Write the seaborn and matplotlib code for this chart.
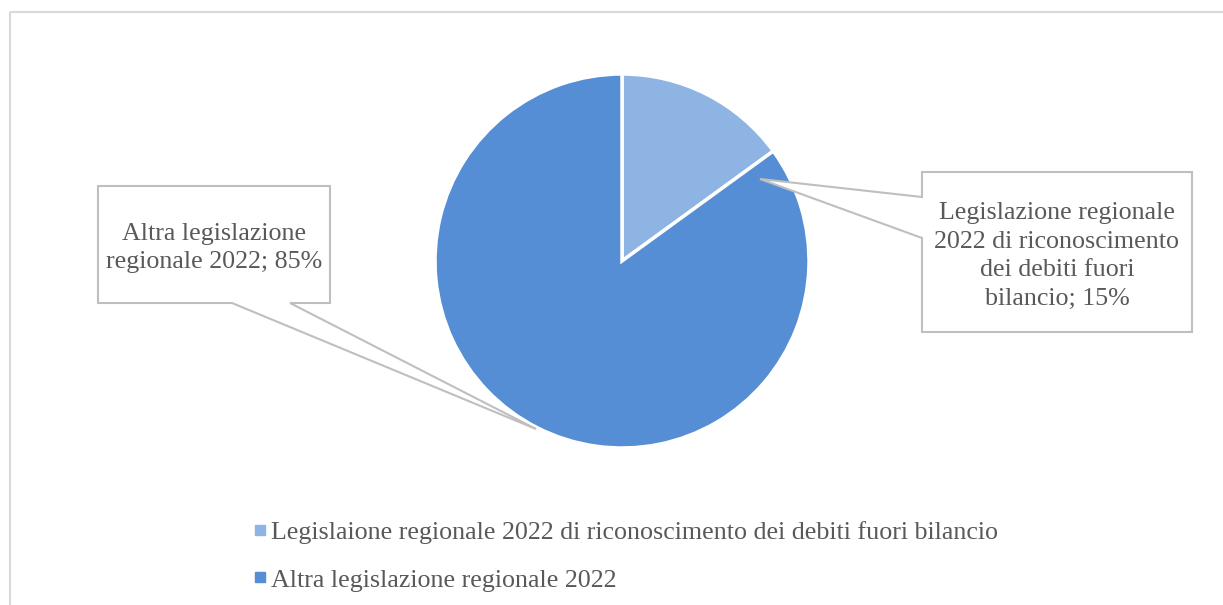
import matplotlib
matplotlib.use("Agg")
import matplotlib.pyplot as plt
from matplotlib.patches import Polygon, Rectangle
from matplotlib.lines import Line2D
import seaborn as sns

# ---- data ----
categories = ["Legislazione regionale 2022 di riconoscimento dei debiti fuori bilancio",
              "Altra legislazione regionale 2022"]
values = [15, 85]
legend_labels = ["Legislaione regionale 2022 di riconoscimento dei debiti fuori bilancio",
                 "Altra legislazione regionale 2022"]
data_labels = ["Legislazione regionale\n2022 di riconoscimento\ndei debiti fuori\nbilancio; 15%",
               "Altra legislazione\nregionale 2022; 85%"]
colors_hex = ["#8EB4E3", "#558ED5"]

sns.set_theme(style="white")
plt.rcParams['font.family'] = ['Liberation Serif', 'DejaVu Serif']
palette = sns.color_palette(colors_hex)

W, H = 1223, 605
fig = plt.figure(figsize=(W / 100, H / 100), dpi=100)
fig.patch.set_facecolor("white")

# pie axes (center ~ (622,261) px, radius ~187 px)
cx, cy, r = 622, 261, 187
ax = fig.add_axes([(cx - r) / W, (H - (cy + r)) / H, 2 * r / W, 2 * r / H])
ax.pie(values, colors=palette, startangle=90, counterclock=False, radius=1,
       wedgeprops=dict(edgecolor="white", linewidth=2.5))
ax.set_xlim(-1, 1)
ax.set_ylim(-1, 1)
ax.set_aspect("equal")
ax.axis("off")

# overlay in pixel coordinates for frame and callouts
ov = fig.add_axes([0, 0, 1, 1], zorder=5)
ov.set_xlim(0, W)
ov.set_ylim(H, 0)
ov.axis("off")
ov.patch.set_alpha(0)

ov.add_patch(Rectangle((10, 12), W, H, fill=False, edgecolor="#D9D9D9", linewidth=1.5))

grey = "#BFBFBF"
txtc = "#595959"
right_box = [(922, 172), (1192, 172), (1192, 332), (922, 332), (922, 238), (760, 179), (922, 197)]
left_box = [(98, 186), (330, 186), (330, 303), (290, 303), (536, 429), (232, 303), (98, 303)]
for pts in (right_box, left_box):
    ov.add_patch(Polygon(pts, closed=True, facecolor="white", edgecolor=grey, linewidth=1.5))

ov.text(1057, 256, data_labels[0], ha="center", va="center", fontsize=18.7,
        color=txtc, linespacing=1.38)
ov.text(214, 248, data_labels[1], ha="center", va="center", fontsize=18.7,
        color=txtc, linespacing=1.38)

handles = [Line2D([], [], marker="s", linestyle="none", markersize=7,
                  markerfacecolor=c, markeredgecolor=c) for c in palette]
fig.legend(handles, legend_labels, loc="center left",
           bbox_to_anchor=(237 / W, 1 - 556 / H), frameon=False,
           fontsize=18.7, labelcolor=txtc, labelspacing=0.95,
           handletextpad=0.0, handlelength=0.8, borderpad=0)

fig.savefig("out.png", dpi=100, facecolor="white")
